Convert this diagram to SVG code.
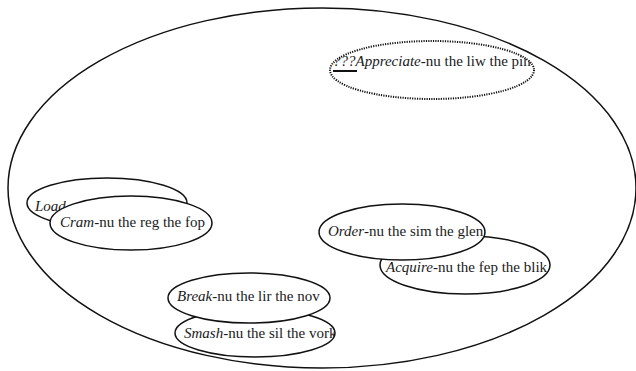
<svg xmlns="http://www.w3.org/2000/svg" width="636" height="371" viewBox="0 0 636 371">
<style>
.e{fill:#fff;stroke:#111;stroke-width:1.5}
.d{fill:#fff;stroke:#111;stroke-width:2;stroke-dasharray:1.2 1.2}
.o{fill:none;stroke:#111;stroke-width:1.5}
.i{font-style:italic}
</style>
<defs>
<clipPath id="cA"><ellipse cx="432" cy="70" rx="102" ry="29"/></clipPath>
<clipPath id="cL"><ellipse cx="107" cy="203" rx="80" ry="25"/></clipPath>
<clipPath id="cC"><ellipse cx="131" cy="223" rx="81" ry="27"/></clipPath>
<clipPath id="cO"><ellipse cx="402" cy="232" rx="83" ry="28"/></clipPath>
<clipPath id="cQ"><ellipse cx="465" cy="265" rx="85" ry="29"/></clipPath>
<clipPath id="cB"><ellipse cx="249" cy="298" rx="81" ry="25"/></clipPath>
<clipPath id="cS"><ellipse cx="255" cy="333" rx="80" ry="24"/></clipPath>
</defs>
<g id="universe"><ellipse class="o" cx="322" cy="188" rx="314" ry="180"/></g>
<g font-family="Liberation Serif, Times New Roman, serif" font-size="15" fill="#1a1a1a">
<g id="appreciate">
<ellipse class="d" cx="432" cy="70" rx="102" ry="29"/>
<text x="333" y="66" clip-path="url(#cA)"><tspan class="i">???Appreciate</tspan>-nu the liw the pih</text>
<line x1="333" y1="71" x2="357" y2="71" stroke="#111" stroke-width="2"/>
</g>
<g id="load">
<ellipse class="e" cx="107" cy="203" rx="80" ry="25"/>
<text x="35" y="211" clip-path="url(#cL)"><tspan class="i">Load</tspan>-nu</text>
</g>
<g id="cram">
<ellipse class="e" cx="131" cy="223" rx="81" ry="27"/>
<text x="60" y="227" clip-path="url(#cC)"><tspan class="i">Cram</tspan>-nu the reg the fop</text>
</g>
<g id="acquire">
<ellipse class="e" cx="465" cy="265" rx="85" ry="29"/>
<text x="386" y="272" clip-path="url(#cQ)"><tspan class="i">Acquire</tspan>-nu the fep the blik</text>
</g>
<g id="order">
<ellipse class="e" cx="402" cy="232" rx="83" ry="28"/>
<text x="328" y="236" clip-path="url(#cO)"><tspan class="i">Order</tspan>-nu the sim the glen</text>
</g>
<g id="smash">
<ellipse class="e" cx="255" cy="333" rx="80" ry="24"/>
<text x="184" y="338" clip-path="url(#cS)"><tspan class="i">Smash</tspan>-nu the sil the vork</text>
</g>
<g id="break">
<ellipse class="e" cx="249" cy="298" rx="81" ry="25"/>
<text x="177" y="301" clip-path="url(#cB)"><tspan class="i">Break</tspan>-nu the lir the nov</text>
</g>
</g>
<g id="connectors"></g>
</svg>
